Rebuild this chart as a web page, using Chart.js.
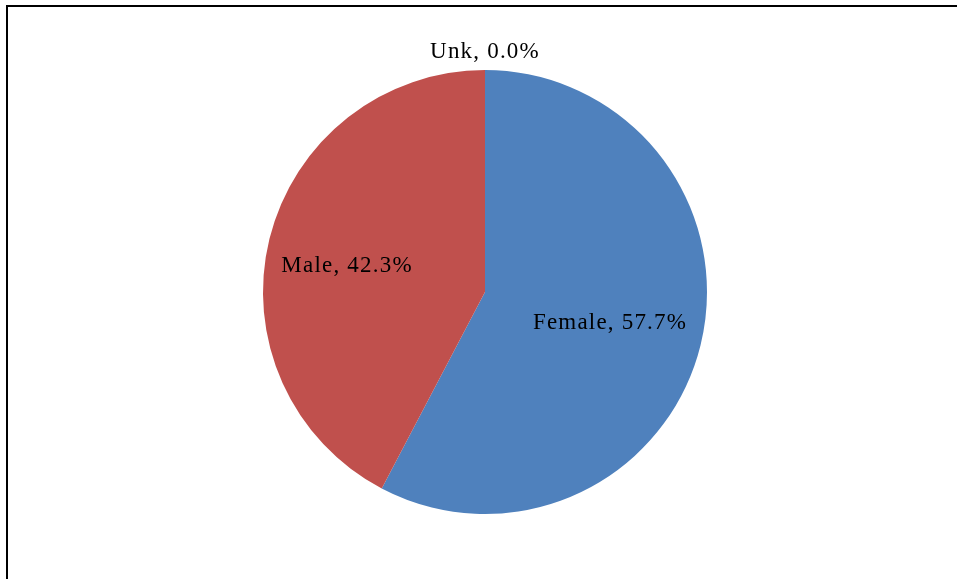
<!DOCTYPE html>
<html>
<head>
<meta charset="utf-8">
<script src="https://cdn.jsdelivr.net/npm/chart.js@4/dist/chart.umd.min.js"></script>
<style>
  html, body { margin: 0; padding: 0; background: #fff; }
  #wrap { width: 957px; height: 579px; }
</style>
</head>
<body>
<div id="wrap"><canvas id="pie" width="957" height="579"></canvas></div>
<script>
var categories = ['Female', 'Male', 'Unk'];
var shares = [57.7, 42.3, 0.0];
var sliceColors = ['#4F81BD', '#C0504D', '#9BBB59'];

// label placement per slice: fraction of radius along the slice middle, plus a small vertical nudge
var labelDist = [0.58, 0.64, 1.08];
var labelNudge = [0, 8, 0];

const labelFont = '23px "Liberation Serif", "Times New Roman", serif';

var framePlugin = {
  id: 'frame',
  beforeDraw: function (chart) {
    var ctx = chart.ctx;
    ctx.save();
    ctx.fillStyle = '#fff';
    ctx.fillRect(0, 0, chart.width, chart.height);
    ctx.strokeStyle = '#000';
    ctx.lineWidth = 2;
    ctx.beginPath();
    ctx.moveTo(7, chart.height + 2);
    ctx.lineTo(7, 6);
    ctx.lineTo(chart.width + 2, 6);
    ctx.stroke();
    ctx.restore();
  }
};

var sliceLabels = {
  id: 'sliceLabels',
  afterDatasetsDraw: function (chart) {
    var ctx = chart.ctx;
    var meta = chart.getDatasetMeta(0);
    ctx.save();
    ctx.font = labelFont;
    ctx.letterSpacing = '1.2px';
    ctx.fillStyle = '#000';
    ctx.textAlign = 'center';
    ctx.textBaseline = 'middle';
    meta.data.forEach(function (arc, i) {
      var mid = (arc.startAngle + arc.endAngle) / 2;
      var r = arc.outerRadius * labelDist[i];
      var x = arc.x + Math.cos(mid) * r;
      var y = arc.y + Math.sin(mid) * r + labelNudge[i];
      var text = categories[i] + ', ' + shares[i].toFixed(1) + '%';
      ctx.fillText(text, x, y);
    });
    ctx.restore();
  }
};

new Chart(document.getElementById('pie'), {
  type: 'pie',
  data: {
    labels: categories,
    datasets: [{
      data: shares,
      backgroundColor: sliceColors,
      borderWidth: 0
    }]
  },
  options: {
    responsive: false,
    animation: false,
    layout: { padding: { top: 70, bottom: 65, left: 13, right: 0 } },
    plugins: {
      legend: { display: false },
      tooltip: { enabled: false }
    }
  },
  plugins: [framePlugin, sliceLabels]
});
</script>
</body>
</html>
